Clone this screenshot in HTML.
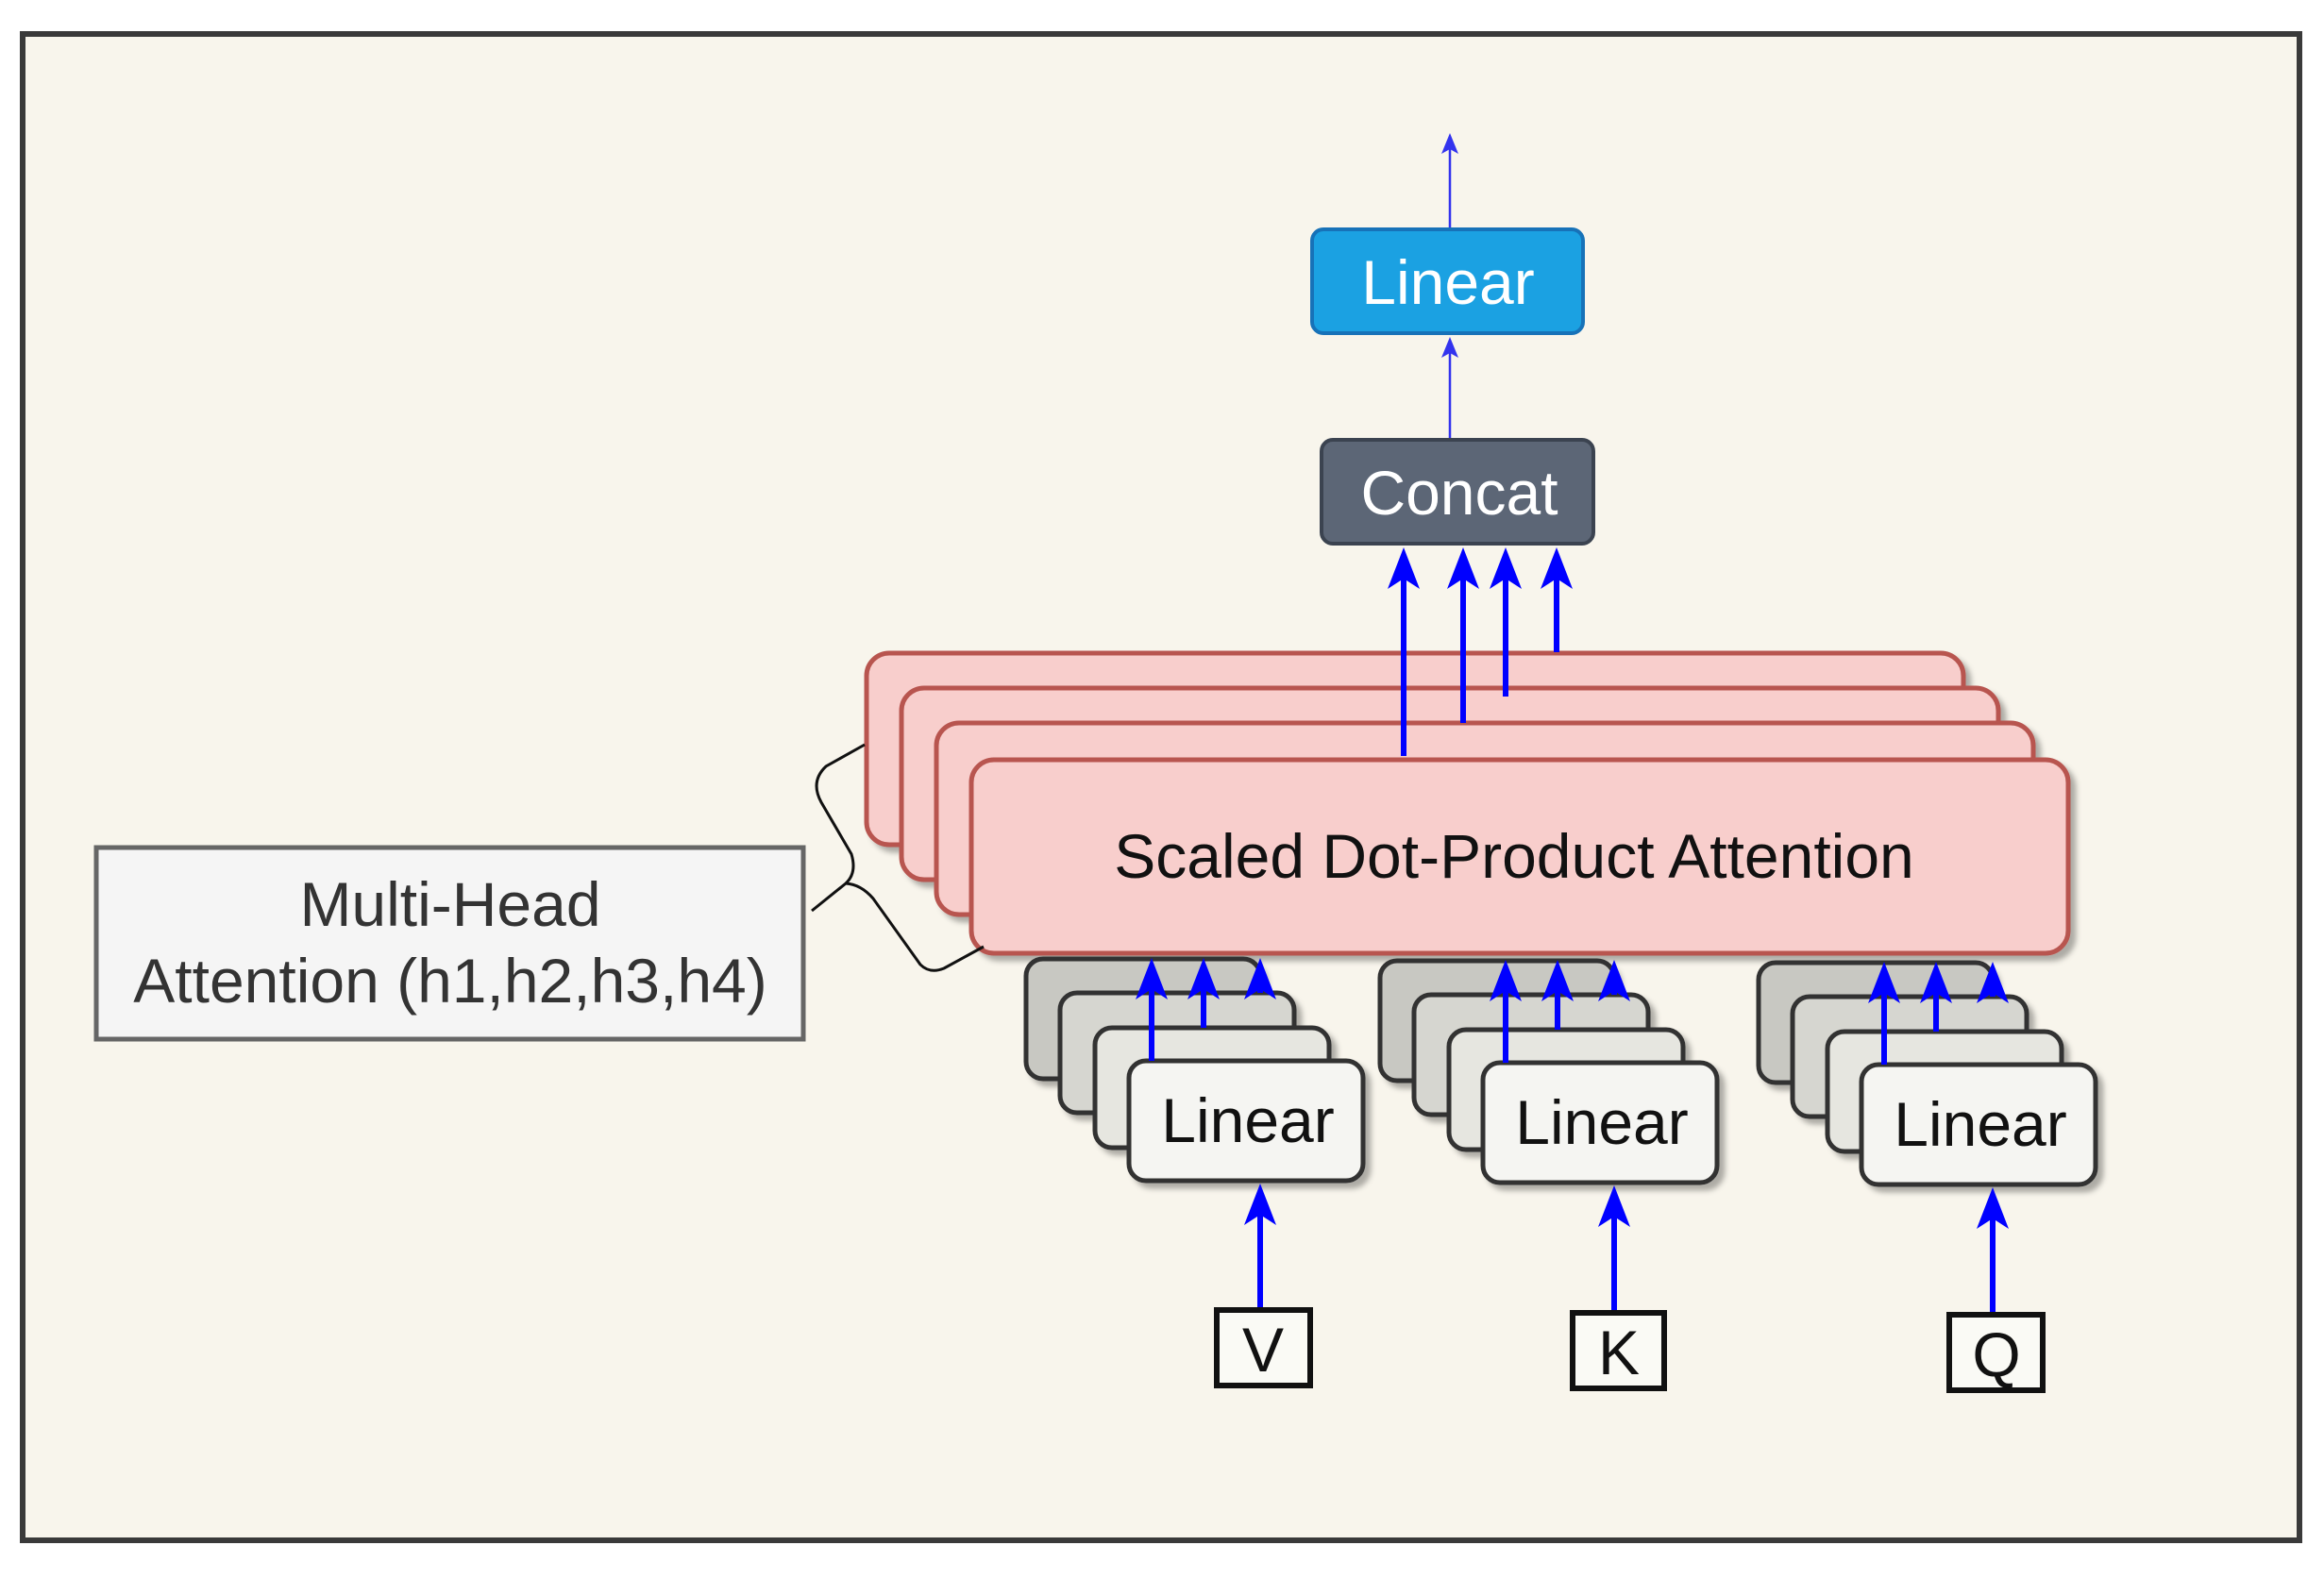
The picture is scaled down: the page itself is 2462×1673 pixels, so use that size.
<!DOCTYPE html>
<html><head><meta charset="utf-8"><style>
html,body{margin:0;padding:0;background:#fff}
svg{display:block}
text{font-family:"Liberation Sans",Arial,sans-serif}
</style></head><body>
<svg width="2462" height="1673" viewBox="0 0 2462 1673" xmlns="http://www.w3.org/2000/svg">
<defs>
<filter id="sh" x="-10%" y="-10%" width="130%" height="130%"><feDropShadow dx="6" dy="6" stdDeviation="3" flood-color="#000" flood-opacity="0.3"/></filter>
<path id="ah" d="M0,0 L17,44 L0,33 L-17,44 z" fill="#0000ff"/>
<path id="as" d="M0,0 L9,22 L0,17 L-9,22 z" fill="#3333ee"/>
</defs>
<rect x="0" y="0" width="2462" height="1673" fill="#fff"/>
<rect x="24" y="36" width="2412" height="1596" fill="#f8f5ec" stroke="#3a3a3a" stroke-width="6"/>

<!-- top arrows -->
<line x1="1536" y1="243" x2="1536" y2="150" stroke="#3333ee" stroke-width="2.5"/>
<use href="#as" x="1536" y="141"/>
<rect x="1390" y="243" width="287" height="110" rx="12" fill="#1ba1e2" stroke="#1772b8" stroke-width="4"/>
<text x="1534" y="322" font-size="66" fill="#fff" text-anchor="middle">Linear</text>
<line x1="1536" y1="466" x2="1536" y2="366" stroke="#3333ee" stroke-width="2.5"/>
<use href="#as" x="1536" y="357"/>
<rect x="1400" y="466" width="288" height="110" rx="12" fill="#5c6676" stroke="#3b4350" stroke-width="4"/>
<text x="1546" y="545" font-size="66" fill="#fff" text-anchor="middle">Concat</text>

<!-- pink stack -->
<g filter="url(#sh)" stroke="#b85450" stroke-width="5" fill="#f8cecc">
<rect x="918" y="692" width="1162" height="203" rx="24"/>
<rect x="955" y="729" width="1162" height="203" rx="24"/>
<rect x="992" y="766" width="1162" height="203" rx="24"/>
<rect x="1029" y="805" width="1162" height="205" rx="24"/>
</g>
<text x="1604" y="930" font-size="66" fill="#111" text-anchor="middle">Scaled Dot-Product Attention</text>

<!-- arrows to concat -->
<g stroke="#0000ff" stroke-width="6">
<line x1="1487" y1="801" x2="1487" y2="600"/>
<line x1="1550" y1="766" x2="1550" y2="600"/>
<line x1="1595" y1="738" x2="1595" y2="600"/>
<line x1="1649" y1="691" x2="1649" y2="600"/>
</g>
<use href="#ah" x="1487" y="580"/>
<use href="#ah" x="1550" y="580"/>
<use href="#ah" x="1595" y="580"/>
<use href="#ah" x="1649" y="580"/>

<!-- linear groups -->
<g id="grp">
<g filter="url(#sh)" stroke="#333" stroke-width="5">
<rect x="1087" y="1016" width="248" height="127" rx="18" fill="#c8c8c2"/>
<rect x="1123" y="1052" width="248" height="127" rx="18" fill="#d6d6d0"/>
<rect x="1160" y="1089" width="248" height="127" rx="18" fill="#e6e6e0"/>
<rect x="1196" y="1124" width="248" height="127" rx="18" fill="#f5f5f2"/>
</g>
<text x="1322" y="1210" font-size="66" fill="#111" text-anchor="middle">Linear</text>
<g stroke="#0000ff" stroke-width="6">
<line x1="1220" y1="1124" x2="1220" y2="1035"/>
<line x1="1275" y1="1089" x2="1275" y2="1035"/>
<line x1="1335" y1="1052" x2="1335" y2="1035"/>
<line x1="1335" y1="1388" x2="1335" y2="1275"/>
</g>
<use href="#ah" x="1220" y="1015"/>
<use href="#ah" x="1275" y="1015"/>
<use href="#ah" x="1335" y="1015"/>
<use href="#ah" x="1335" y="1254"/>
</g>
<use href="#grp" transform="translate(375,2)"/>
<use href="#grp" transform="translate(776,4)"/>

<!-- inputs -->
<g fill="#fafaf5" stroke="#111" stroke-width="6">
<rect x="1289" y="1388" width="99" height="80"/>
<rect x="1666" y="1391" width="97" height="80"/>
<rect x="2065" y="1393" width="99" height="80"/>
</g>
<g font-size="66" fill="#111" text-anchor="middle">
<text x="1338" y="1453">V</text>
<text x="1715" y="1456">K</text>
<text x="2115" y="1458">Q</text>
</g>

<!-- label -->
<rect x="102" y="898" width="749" height="203" fill="#f5f5f5" stroke="#666" stroke-width="5"/>
<text x="477" y="981" font-size="66" fill="#333" text-anchor="middle">Multi-Head</text>
<text x="477" y="1062" font-size="66" fill="#333" text-anchor="middle">Attention (h1,h2,h3,h4)</text>

<!-- brace -->
<path d="M916,789 L875,812 Q858,828 870,850 L902,905 Q908,925 896,936 L860,965 M896,936 Q912,937 925,952 L975,1022 Q985,1032 1000,1026 L1042,1003" fill="none" stroke="#111" stroke-width="3"/>
</svg>
</body></html>
